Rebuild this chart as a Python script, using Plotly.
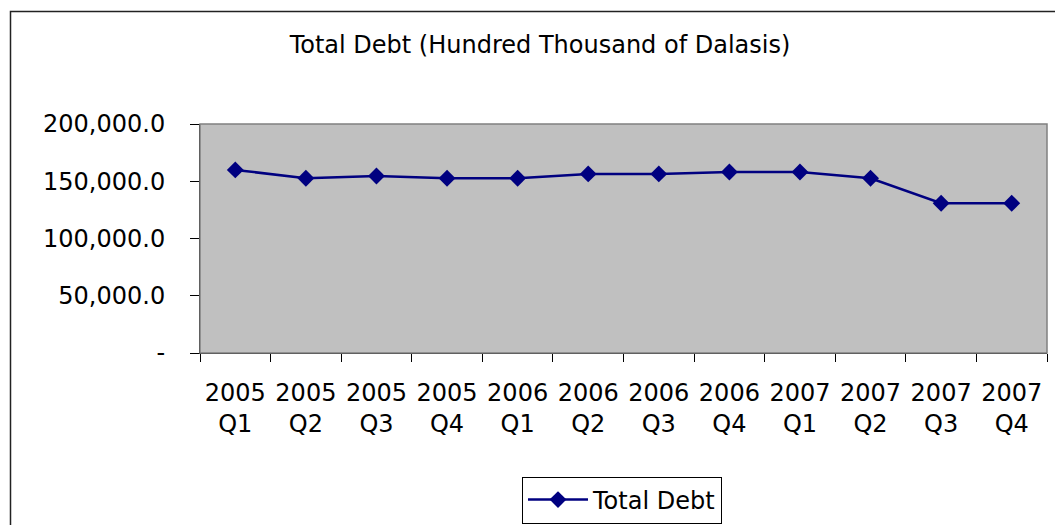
import plotly.graph_objects as go

# Quarterly total debt, hundred thousand of Dalasis
quarters = ["2005<br>Q1", "2005<br>Q2", "2005<br>Q3", "2005<br>Q4",
            "2006<br>Q1", "2006<br>Q2", "2006<br>Q3", "2006<br>Q4",
            "2007<br>Q1", "2007<br>Q2", "2007<br>Q3", "2007<br>Q4"]
total_debt = [159900, 152600, 154600, 152600,
              152600, 156400, 156400, 158100,
              158100, 152600, 130800, 130800]

y_ticks = [0, 50000, 100000, 150000, 200000]
y_tick_text = ["-", "50,000.0", "100,000.0", "150,000.0", "200,000.0"]

FONT = "DejaVu Sans, Liberation Sans, Arial, sans-serif"
FS = 24
W, H = 1055, 525
L, R, T, B = 200, 8, 124, 172
PW, PH = W - L - R, H - T - B


def px_x(v):
    return (v - L) / PW


def px_y(v):
    return (H - B - v) / PH


fig = go.Figure()
fig.add_trace(go.Scatter(
    x=quarters, y=total_debt, name="Total Debt",
    mode="lines+markers",
    line=dict(color="#000080", width=2.5),
    marker=dict(symbol="diamond", size=13, color="#000080"),
))

fig.update_layout(
    width=W, height=H,
    margin=dict(l=L, r=R, t=T, b=B),
    paper_bgcolor="white",
    plot_bgcolor="#C0C0C0",
    font=dict(family=FONT, color="black", size=FS),
    title=dict(text="Total Debt (Hundred Thousand of Dalasis)",
               x=540 / W, xref="container", xanchor="center",
               y=1 - 45 / H, yref="container", yanchor="middle",
               font=dict(size=FS, family=FONT, color="black")),
    showlegend=True,
    legend=dict(orientation="h", x=622 / W, xref="container", xanchor="center",
                y=1 - 500 / H, yref="container", yanchor="middle",
                bordercolor="black", borderwidth=1, bgcolor="white",
                itemwidth=60,
                font=dict(size=FS, family=FONT)),
    xaxis=dict(type="category", tickson="boundaries", ticks="outside",
               ticklen=8, tickcolor="black", showline=True,
               linecolor="black", linewidth=1, showgrid=False,
               tickfont=dict(size=FS, family=FONT), tickangle=0,
               ticklabelstandoff=18,
               range=[-0.5, len(quarters) - 0.5]),
    yaxis=dict(range=[0, 200000], tickvals=y_ticks, ticktext=y_tick_text,
               ticks="outside", ticklen=9, tickcolor="black",
               showline=True, linecolor="black", linewidth=1,
               showgrid=False, zeroline=False,
               tickfont=dict(size=FS, family=FONT),
               ticklabelstandoff=20),
    shapes=[
        # plot area frame
        dict(type="rect", xref="paper", yref="paper", x0=0, x1=1, y0=0, y1=1,
             line=dict(color="#808080", width=1.5), layer="above"),
        # chart outer frame
        dict(type="rect", xref="paper", yref="paper",
             x0=px_x(10.5), x1=px_x(1062), y0=px_y(532), y1=px_y(11.5),
             line=dict(color="#222222", width=1.5)),
    ],
)

fig.write_html("out.html")
